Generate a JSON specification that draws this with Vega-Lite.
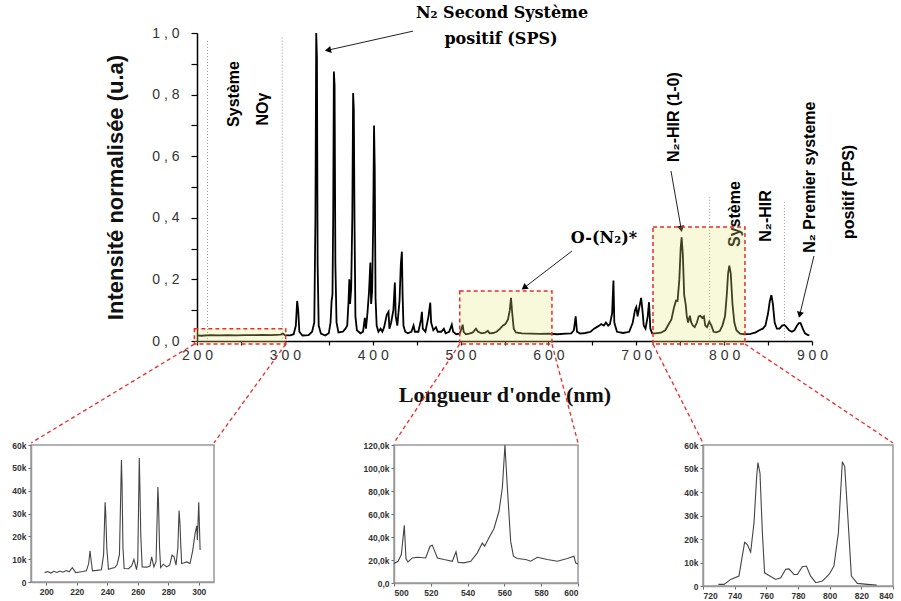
{
  "$schema": "https://vega.github.io/schema/vega-lite/v6.json",
  "padding": {"left": 11, "top": 4, "right": 0, "bottom": 0},
  "background": "white",
  "config": {"view": {"stroke": null}, "axis": {"grid": false}},
  "datasets": {
    "spectrum": [
      {"x":200,"y":0.018},{"x":205,"y":0.017},{"x":215,"y":0.019},{"x":225,"y":0.018},{"x":235,"y":0.019},{"x":245,"y":0.018},{"x":255,"y":0.019},{"x":265,"y":0.019},{"x":275,"y":0.02},{"x":285,"y":0.019},{"x":295,"y":0.021},{"x":298,"y":0.024},{"x":300,"y":0.019},{"x":306,"y":0.018},{"x":310,"y":0.022},{"x":312.5,"y":0.05},{"x":314,"y":0.13},{"x":315.2,"y":0.1},{"x":316.5,"y":0.03},{"x":320,"y":0.018},{"x":327,"y":0.019},{"x":331,"y":0.03},{"x":333.5,"y":0.06},{"x":334.8,"y":0.4},{"x":335.7,"y":1.0},{"x":336.5,"y":0.92},{"x":337.3,"y":0.25},{"x":338.5,"y":0.05},{"x":341,"y":0.024},{"x":346,"y":0.018},{"x":350,"y":0.025},{"x":352,"y":0.06},{"x":353.2,"y":0.13},{"x":354.2,"y":0.15},{"x":355,"y":0.4},{"x":355.8,"y":0.875},{"x":356.6,"y":0.83},{"x":357.5,"y":0.25},{"x":358.8,"y":0.06},{"x":361,"y":0.028},{"x":366,"y":0.03},{"x":369,"y":0.04},{"x":371,"y":0.05},{"x":372.5,"y":0.13},{"x":373.4,"y":0.2},{"x":374.2,"y":0.12},{"x":375.5,"y":0.17},{"x":376.8,"y":0.41},{"x":377.7,"y":0.805},{"x":378.5,"y":0.75},{"x":379.3,"y":0.38},{"x":380.3,"y":0.08},{"x":382,"y":0.035},{"x":386,"y":0.025},{"x":389,"y":0.03},{"x":391,"y":0.075},{"x":392.3,"y":0.04},{"x":394,"y":0.09},{"x":395.8,"y":0.16},{"x":397.3,"y":0.255},{"x":398.2,"y":0.12},{"x":399.3,"y":0.16},{"x":400.5,"y":0.37},{"x":401.5,"y":0.7},{"x":402.3,"y":0.56},{"x":403.2,"y":0.14},{"x":404.5,"y":0.05},{"x":406.5,"y":0.03},{"x":409,"y":0.04},{"x":411,"y":0.03},{"x":413,"y":0.045},{"x":416,"y":0.085},{"x":418,"y":0.095},{"x":419,"y":0.04},{"x":421,"y":0.06},{"x":423.5,"y":0.1},{"x":425.2,"y":0.19},{"x":426.2,"y":0.08},{"x":428,"y":0.05},{"x":430.5,"y":0.13},{"x":432,"y":0.25},{"x":433.2,"y":0.29},{"x":434,"y":0.15},{"x":435,"y":0.05},{"x":437,"y":0.03},{"x":440,"y":0.025},{"x":444,"y":0.03},{"x":446.5,"y":0.05},{"x":448,"y":0.03},{"x":452,"y":0.03},{"x":455,"y":0.07},{"x":456,"y":0.095},{"x":457,"y":0.04},{"x":460,"y":0.03},{"x":463.5,"y":0.08},{"x":465.5,"y":0.125},{"x":466.5,"y":0.06},{"x":469,"y":0.035},{"x":472,"y":0.045},{"x":474,"y":0.03},{"x":478,"y":0.03},{"x":481,"y":0.04},{"x":483,"y":0.025},{"x":487,"y":0.03},{"x":490,"y":0.053},{"x":491.5,"y":0.03},{"x":495,"y":0.022},{"x":499,"y":0.024},{"x":501,"y":0.04},{"x":502.4,"y":0.053},{"x":503.5,"y":0.03},{"x":506,"y":0.022},{"x":510,"y":0.024},{"x":514,"y":0.028},{"x":517.5,"y":0.04},{"x":520,"y":0.03},{"x":524,"y":0.025},{"x":528,"y":0.027},{"x":531,"y":0.033},{"x":533,"y":0.025},{"x":537,"y":0.026},{"x":541,"y":0.03},{"x":545,"y":0.04},{"x":548,"y":0.05},{"x":551,"y":0.055},{"x":554,"y":0.07},{"x":556,"y":0.1},{"x":557.4,"y":0.14},{"x":558.8,"y":0.09},{"x":560.5,"y":0.04},{"x":563,"y":0.028},{"x":570,"y":0.025},{"x":580,"y":0.024},{"x":590,"y":0.023},{"x":600,"y":0.024},{"x":610,"y":0.022},{"x":620,"y":0.024},{"x":626,"y":0.025},{"x":629,"y":0.035},{"x":631,"y":0.08},{"x":632.5,"y":0.03},{"x":636,"y":0.024},{"x":642,"y":0.026},{"x":648,"y":0.03},{"x":652,"y":0.04},{"x":655,"y":0.045},{"x":658,"y":0.05},{"x":660,"y":0.055},{"x":663,"y":0.05},{"x":665.5,"y":0.06},{"x":668,"y":0.05},{"x":670,"y":0.055},{"x":672.5,"y":0.09},{"x":674,"y":0.196},{"x":675,"y":0.06},{"x":678,"y":0.03},{"x":685,"y":0.026},{"x":692,"y":0.03},{"x":696,"y":0.06},{"x":698.5,"y":0.1},{"x":700,"y":0.11},{"x":701.5,"y":0.08},{"x":703.5,"y":0.11},{"x":705.5,"y":0.14},{"x":707,"y":0.1},{"x":708.5,"y":0.05},{"x":710.5,"y":0.04},{"x":713,"y":0.08},{"x":714.5,"y":0.126},{"x":716,"y":0.04},{"x":718,"y":0.025},{"x":722,"y":0.025},{"x":728,"y":0.027},{"x":733,"y":0.035},{"x":737,"y":0.055},{"x":740,"y":0.07},{"x":743,"y":0.11},{"x":745.2,"y":0.131},{"x":747,"y":0.13},{"x":749,"y":0.2},{"x":750.5,"y":0.3},{"x":751.6,"y":0.337},{"x":753,"y":0.28},{"x":754.5,"y":0.15},{"x":756.2,"y":0.12},{"x":757.5,"y":0.08},{"x":759,"y":0.06},{"x":761,"y":0.082},{"x":762.5,"y":0.06},{"x":764.5,"y":0.05},{"x":766.5,"y":0.045},{"x":769,"y":0.06},{"x":771,"y":0.08},{"x":773,"y":0.082},{"x":775,"y":0.075},{"x":777,"y":0.08},{"x":778.5,"y":0.05},{"x":780.5,"y":0.045},{"x":783.1,"y":0.063},{"x":785.5,"y":0.05},{"x":788,"y":0.03},{"x":791,"y":0.028},{"x":795,"y":0.032},{"x":798,"y":0.05},{"x":801,"y":0.08},{"x":803,"y":0.15},{"x":804.5,"y":0.22},{"x":805.9,"y":0.245},{"x":807.5,"y":0.22},{"x":809.5,"y":0.12},{"x":811.6,"y":0.06},{"x":814,"y":0.035},{"x":818,"y":0.024},{"x":823,"y":0.022},{"x":830,"y":0.023},{"x":836,"y":0.028},{"x":840,"y":0.035},{"x":844,"y":0.04},{"x":847,"y":0.05},{"x":850,"y":0.09},{"x":852,"y":0.13},{"x":853.8,"y":0.149},{"x":855.5,"y":0.12},{"x":857.5,"y":0.06},{"x":860,"y":0.04},{"x":863,"y":0.04},{"x":866,"y":0.05},{"x":868.6,"y":0.052},{"x":871,"y":0.045},{"x":874,"y":0.035},{"x":877,"y":0.03},{"x":880,"y":0.035},{"x":883,"y":0.05},{"x":885,"y":0.058},{"x":887,"y":0.058},{"x":889.5,"y":0.04},{"x":892,"y":0.025},{"x":895,"y":0.02},{"x":897,"y":0.018}
    ],
    "inset1": [
      {"x":198.9,"y":4100},{"x":201,"y":4600},{"x":203,"y":3900},{"x":205,"y":4700},{"x":207,"y":4200},{"x":209,"y":4800},{"x":211,"y":4300},{"x":213,"y":5000},{"x":215,"y":4500},{"x":217.1,"y":6300},{"x":219.3,"y":4100},{"x":221,"y":4300},{"x":224,"y":4600},{"x":226.3,"y":4900},{"x":227.8,"y":8000},{"x":228.7,"y":13700},{"x":229.5,"y":9000},{"x":230.3,"y":4900},{"x":233,"y":5100},{"x":236.2,"y":5400},{"x":237.6,"y":12000},{"x":238.6,"y":34900},{"x":239,"y":30000},{"x":239.7,"y":15000},{"x":240.8,"y":5600},{"x":243,"y":6000},{"x":245,"y":6300},{"x":246.5,"y":7800},{"x":248,"y":12000},{"x":249.3,"y":53400},{"x":249.7,"y":43000},{"x":250.3,"y":15000},{"x":251.1,"y":5900},{"x":254,"y":5800},{"x":256,"y":7000},{"x":257.5,"y":9900},{"x":259.2,"y":5400},{"x":260,"y":9000},{"x":261,"y":54300},{"x":261.4,"y":42000},{"x":262,"y":20000},{"x":262.9,"y":6600},{"x":266,"y":6500},{"x":268,"y":7000},{"x":269.1,"y":11000},{"x":270.6,"y":6600},{"x":272,"y":9000},{"x":273.2,"y":41600},{"x":273.6,"y":35300},{"x":274.3,"y":15000},{"x":275,"y":6300},{"x":276.8,"y":7800},{"x":278.9,"y":6600},{"x":281,"y":7500},{"x":282.5,"y":11800},{"x":283.8,"y":11000},{"x":285.1,"y":7400},{"x":286.3,"y":15000},{"x":287.1,"y":31300},{"x":287.7,"y":25400},{"x":288.3,"y":15000},{"x":288.8,"y":8100},{"x":290,"y":8300},{"x":292.1,"y":8800},{"x":294.3,"y":8100},{"x":296.1,"y":14000},{"x":297.6,"y":21300},{"x":298.7,"y":24600},{"x":299.1,"y":18400},{"x":300,"y":34900},{"x":300.9,"y":14000}
    ],
    "inset2": [
      {"x":500,"y":16900},{"x":502.2,"y":18900},{"x":504,"y":24800},{"x":505.6,"y":50100},{"x":506.5,"y":21300},{"x":507.6,"y":18300},{"x":510,"y":21800},{"x":512.7,"y":22400},{"x":517.2,"y":21800},{"x":519.6,"y":32000},{"x":520.8,"y":32900},{"x":522.1,"y":27700},{"x":523.6,"y":21800},{"x":527.2,"y":20400},{"x":531.7,"y":18900},{"x":533.7,"y":27100},{"x":534.8,"y":18100},{"x":538,"y":17500},{"x":541.7,"y":18900},{"x":545.3,"y":26200},{"x":548,"y":34700},{"x":549.3,"y":32000},{"x":551.6,"y":39300},{"x":554.3,"y":47200},{"x":557.1,"y":62600},{"x":558.9,"y":83000},{"x":560.3,"y":120000},{"x":561.6,"y":83000},{"x":563.4,"y":36400},{"x":564.9,"y":23300},{"x":567,"y":21300},{"x":571.6,"y":20400},{"x":574.3,"y":18900},{"x":577.9,"y":22400},{"x":583.3,"y":20400},{"x":588.8,"y":18900},{"x":594.2,"y":21300},{"x":597.8,"y":23300},{"x":598.7,"y":17500},{"x":600,"y":16600}
    ],
    "inset3": [
      {"x":729.7,"y":700},{"x":733.3,"y":700},{"x":737.5,"y":2800},{"x":742.7,"y":4200},{"x":744.8,"y":12700},{"x":746.3,"y":18600},{"x":748,"y":17600},{"x":750.1,"y":14400},{"x":752.2,"y":26800},{"x":753.9,"y":46600},{"x":754.7,"y":52500},{"x":756,"y":48000},{"x":757.5,"y":22600},{"x":758.9,"y":5600},{"x":761.7,"y":4500},{"x":765.9,"y":2800},{"x":769.1,"y":3500},{"x":772.2,"y":7100},{"x":774.3,"y":7300},{"x":777.5,"y":4900},{"x":779.6,"y":4900},{"x":782.7,"y":8200},{"x":785.3,"y":8500},{"x":788,"y":4200},{"x":791.2,"y":1400},{"x":795.4,"y":2100},{"x":799.6,"y":4900},{"x":802.7,"y":8500},{"x":805.5,"y":22600},{"x":808,"y":52900},{"x":809.5,"y":50800},{"x":811.6,"y":28200},{"x":813.7,"y":4200},{"x":817.5,"y":1100},{"x":823.8,"y":700},{"x":829.7,"y":400}
    ]
  },
  "vconcat": [
    {
      "hconcat": [
        {"width": 166, "height": 10, "data": {"values": []}, "mark": {"type": "point", "opacity": 0}},
        {
          "width": 615,
          "height": 308,
          "encoding": {
            "x": {"field": "x", "type": "quantitative",
              "scale": {"domain": [200, 900], "nice": false, "zero": false},
              "axis": {"title": "Longueur d'onde (nm)", "values": [200,250,300,350,400,450,500,550,600,650,700,750,800,850,900],
                "labelExpr": "datum.value % 100 == 0 ? join(split(format(datum.value,'d'),''),' ') : ''",
                "labelOverlap": false, "labelBound": false, "labelFlush": false,
                "tickSize": 4, "labelPadding": 3, "labelFont": "Liberation Sans", "labelFontSize": 14, "labelColor": "#333",
                "domainColor": "#000", "domainWidth": 1.5, "tickColor": "#000", "tickWidth": 1.2,
                "titleFont": "Liberation Serif", "titleFontSize": 22, "titleFontWeight": "bold", "titleColor": "#111", "titlePadding": 22}},
            "y": {"field": "y", "type": "quantitative",
              "scale": {"domain": [0, 1], "nice": false},
              "axis": {"title": "Intensité normalisée (u.a)", "values": [0,0.1,0.2,0.3,0.4,0.5,0.6,0.7,0.8,0.9,1.0],
                "labelExpr": "round(datum.value*10) % 2 == 0 ? join(split(replace(format(datum.value,'.1f'),'.',','),''),' ') : ''",
                "labelOverlap": false, "labelBound": false, "labelFlush": false,
                "tickSize": 6, "labelPadding": 12, "labelFont": "Liberation Sans", "labelFontSize": 14, "labelColor": "#333",
                "domainColor": "#000", "domainWidth": 1.5, "tickColor": "#000", "tickWidth": 1.2,
                "titleFont": "Liberation Sans Narrow, Liberation Sans", "titleFontSize": 22, "titleFontWeight": "bold", "titleColor": "#111", "titlePadding": 24}}
          },
          "layer": [
            {"data": {"values": [{"x":212,"y":0.974,"y2":0},{"x":297,"y":0.985,"y2":0.007},{"x":783.5,"y":0.468,"y2":0},{"x":868.6,"y":0.451,"y2":0}]},
             "mark": {"type": "rule", "color": "#999", "strokeWidth": 1, "strokeDash": [1, 2]},
             "encoding": {"y2": {"field": "y2"}}},
            {"data": {"name": "spectrum"}, "mark": {"type": "line", "color": "#000", "strokeWidth": 1.8}},
            {"data": {"values": [{"x":242.1,"y":0.802,"t":"Système"},{"x":275.1,"y":0.753,"t":"NOγ"},{"x":742.9,"y":0.727,"t":"N₂-HIR (1-0)"},{"x":812.4,"y":0.412,"t":"Système"},{"x":847.6,"y":0.406,"t":"N₂-HIR"},{"x":897.7,"y":0.532,"t":"N₂ Premier systeme"},{"x":942.1,"y":0.484,"t":"positif (FPS)"}]},
             "mark": {"type": "text", "angle": 270, "align": "center", "baseline": "middle", "font": "Liberation Sans Narrow, Liberation Sans", "fontWeight": "bold", "fontSize": 16, "color": "#000"},
             "encoding": {"text": {"field": "t"}}},
            {"data": {"values": [{"x":547.2,"y":1.065,"t":"N₂ Second Système"},{"x":546,"y":0.98,"t":"positif (SPS)"},{"x":663.2,"y":0.334,"t":"O-(N₂)*"}]},
             "mark": {"type": "text", "align": "center", "baseline": "middle", "font": "DejaVu Serif", "fontWeight": "bold", "fontSize": 16, "color": "#000"},
             "encoding": {"text": {"field": "t"}}},
            {"data": {"values": [{"x":445.8,"y":1.006,"x2":350.2,"y2":0.945},{"x":626.8,"y":0.292,"x2":573.3,"y2":0.175},{"x":739.5,"y":0.552,"x2":750.9,"y2":0.367},{"x":902.2,"y":0.276,"x2":886.3,"y2":0.088}]},
             "mark": {"type": "rule", "color": "#222", "strokeWidth": 1},
             "encoding": {"x2": {"field": "x2"}, "y2": {"field": "y2"}}},
            {"data": {"values": [{"x":350.2,"y":0.945}]}, "mark": {"type": "point", "shape": "triangle", "filled": true, "color": "#000", "size": 50, "angle": 257, "opacity": 1}},
            {"data": {"values": [{"x":573.3,"y":0.175}]}, "mark": {"type": "point", "shape": "triangle", "filled": true, "color": "#000", "size": 50, "angle": 233, "opacity": 1}},
            {"data": {"values": [{"x":750.9,"y":0.367}]}, "mark": {"type": "point", "shape": "triangle", "filled": true, "color": "#000", "size": 50, "angle": 170, "opacity": 1}},
            {"data": {"values": [{"x":886.3,"y":0.088}]}, "mark": {"type": "point", "shape": "triangle", "filled": true, "color": "#000", "size": 50, "angle": 194, "opacity": 1}},
            {"data": {"values": [{"x":197,"x2":301,"y":-0.01,"y2":0.04},{"x":499,"x2":604,"y":-0.01,"y2":0.162},{"x":719,"x2":823.7,"y":-0.01,"y2":0.37}]},
             "mark": {"type": "rect", "fill": "#e6e67a", "fillOpacity": 0.28, "stroke": "#ee2a2a", "strokeWidth": 1.5, "strokeDash": [4, 3]},
             "encoding": {"x2": {"field": "x2"}, "y2": {"field": "y2"}}},
            {"data": {"values": [{"x":197,"y":-0.01,"x2":11.1,"y2":-0.331},{"x":301,"y":-0.01,"x2":219.3,"y2":-0.331},{"x":499,"y":-0.01,"x2":424.2,"y2":-0.331},{"x":604,"y":-0.01,"x2":633.7,"y2":-0.331},{"x":719,"y":-0.01,"x2":775.9,"y2":-0.331},{"x":823.7,"y":-0.01,"x2":992.2,"y2":-0.331}]},
             "mark": {"type": "rule", "color": "#ee2a2a", "strokeWidth": 1.3, "strokeDash": [4, 3]},
             "encoding": {"x2": {"field": "x2"}, "y2": {"field": "y2"}}}
          ]
        }
      ],
      "spacing": 0,
      "bounds": "flush"
    },
    {
      "hconcat": [
        {
          "width": 183, "height": 137,
          "view": {"stroke": "#999", "strokeWidth": 1.5},
          "data": {"name": "inset1"},
          "mark": {"type": "line", "color": "#444", "strokeWidth": 1.1},
          "encoding": {
            "x": {"field": "x", "type": "quantitative", "scale": {"domain": [190, 310], "nice": false, "zero": false},
              "axis": {"title": null, "values": [200,220,240,260,280,300], "tickSize": 3, "labelPadding": 2, "labelFont": "Liberation Sans", "labelFontSize": 8.5, "labelFontWeight": "bold", "labelColor": "#333", "domainColor": "#999", "domainWidth": 1.5, "tickColor": "#666"}},
            "y": {"field": "y", "type": "quantitative", "scale": {"domain": [0, 60000], "nice": false},
              "axis": {"title": null, "values": [0,10000,20000,30000,40000,50000,60000], "labelExpr": "datum.value == 0 ? '0' : (datum.value/1000) + 'k'", "tickSize": 3, "labelPadding": 2, "labelFont": "Liberation Sans", "labelFontSize": 8.5, "labelFontWeight": "bold", "labelColor": "#333", "domainColor": "#999", "domainWidth": 1.5, "tickColor": "#666"}}
          }
        },
        {"width": 180, "height": 10, "data": {"values": []}, "mark": {"type": "point", "opacity": 0}},
        {
          "width": 184, "height": 138,
          "view": {"stroke": "#999", "strokeWidth": 1.5},
          "data": {"name": "inset2"},
          "mark": {"type": "line", "color": "#444", "strokeWidth": 1.1},
          "encoding": {
            "x": {"field": "x", "type": "quantitative", "scale": {"domain": [500, 600], "nice": false, "zero": false},
              "axis": {"title": null, "values": [500,520,540,560,580,600], "tickSize": 3, "labelPadding": 2, "labelFont": "Liberation Sans", "labelFontSize": 8.5, "labelFontWeight": "bold", "labelColor": "#333", "domainColor": "#999", "domainWidth": 1.5, "tickColor": "#666"}},
            "y": {"field": "y", "type": "quantitative", "scale": {"domain": [0, 120000], "nice": false},
              "axis": {"title": null, "values": [0,20000,40000,60000,80000,100000,120000], "labelExpr": "datum.value == 0 ? '0,0' : replace(format(datum.value/1000,'.1f'),'.',',') + 'k'", "tickSize": 3, "labelPadding": 2, "labelFont": "Liberation Sans", "labelFontSize": 8.5, "labelFontWeight": "bold", "labelColor": "#333", "domainColor": "#999", "domainWidth": 1.5, "tickColor": "#666"}}
          }
        },
        {"width": 125, "height": 10, "data": {"values": []}, "mark": {"type": "point", "opacity": 0}},
        {
          "width": 190, "height": 141,
          "view": {"stroke": "#999", "strokeWidth": 1.5},
          "data": {"name": "inset3"},
          "mark": {"type": "line", "color": "#444", "strokeWidth": 1.1},
          "encoding": {
            "x": {"field": "x", "type": "quantitative", "scale": {"domain": [720, 840], "nice": false, "zero": false},
              "axis": {"title": null, "values": [720,740,760,780,800,820,840], "tickSize": 3, "labelPadding": 2, "labelFont": "Liberation Sans", "labelFontSize": 8.5, "labelFontWeight": "bold", "labelColor": "#333", "domainColor": "#999", "domainWidth": 1.5, "tickColor": "#666"}},
            "y": {"field": "y", "type": "quantitative", "scale": {"domain": [0, 60000], "nice": false},
              "axis": {"title": null, "values": [0,10000,20000,30000,40000,50000,60000], "labelExpr": "datum.value == 0 ? '0' : (datum.value/1000) + 'k'", "tickSize": 3, "labelPadding": 2, "labelFont": "Liberation Sans", "labelFontSize": 8.5, "labelFontWeight": "bold", "labelColor": "#333", "domainColor": "#999", "domainWidth": 1.5, "tickColor": "#666"}}
          }
        }
      ],
      "spacing": 0,
      "bounds": "flush"
    }
  ],
  "spacing": -4,
  "bounds": "full"
}
